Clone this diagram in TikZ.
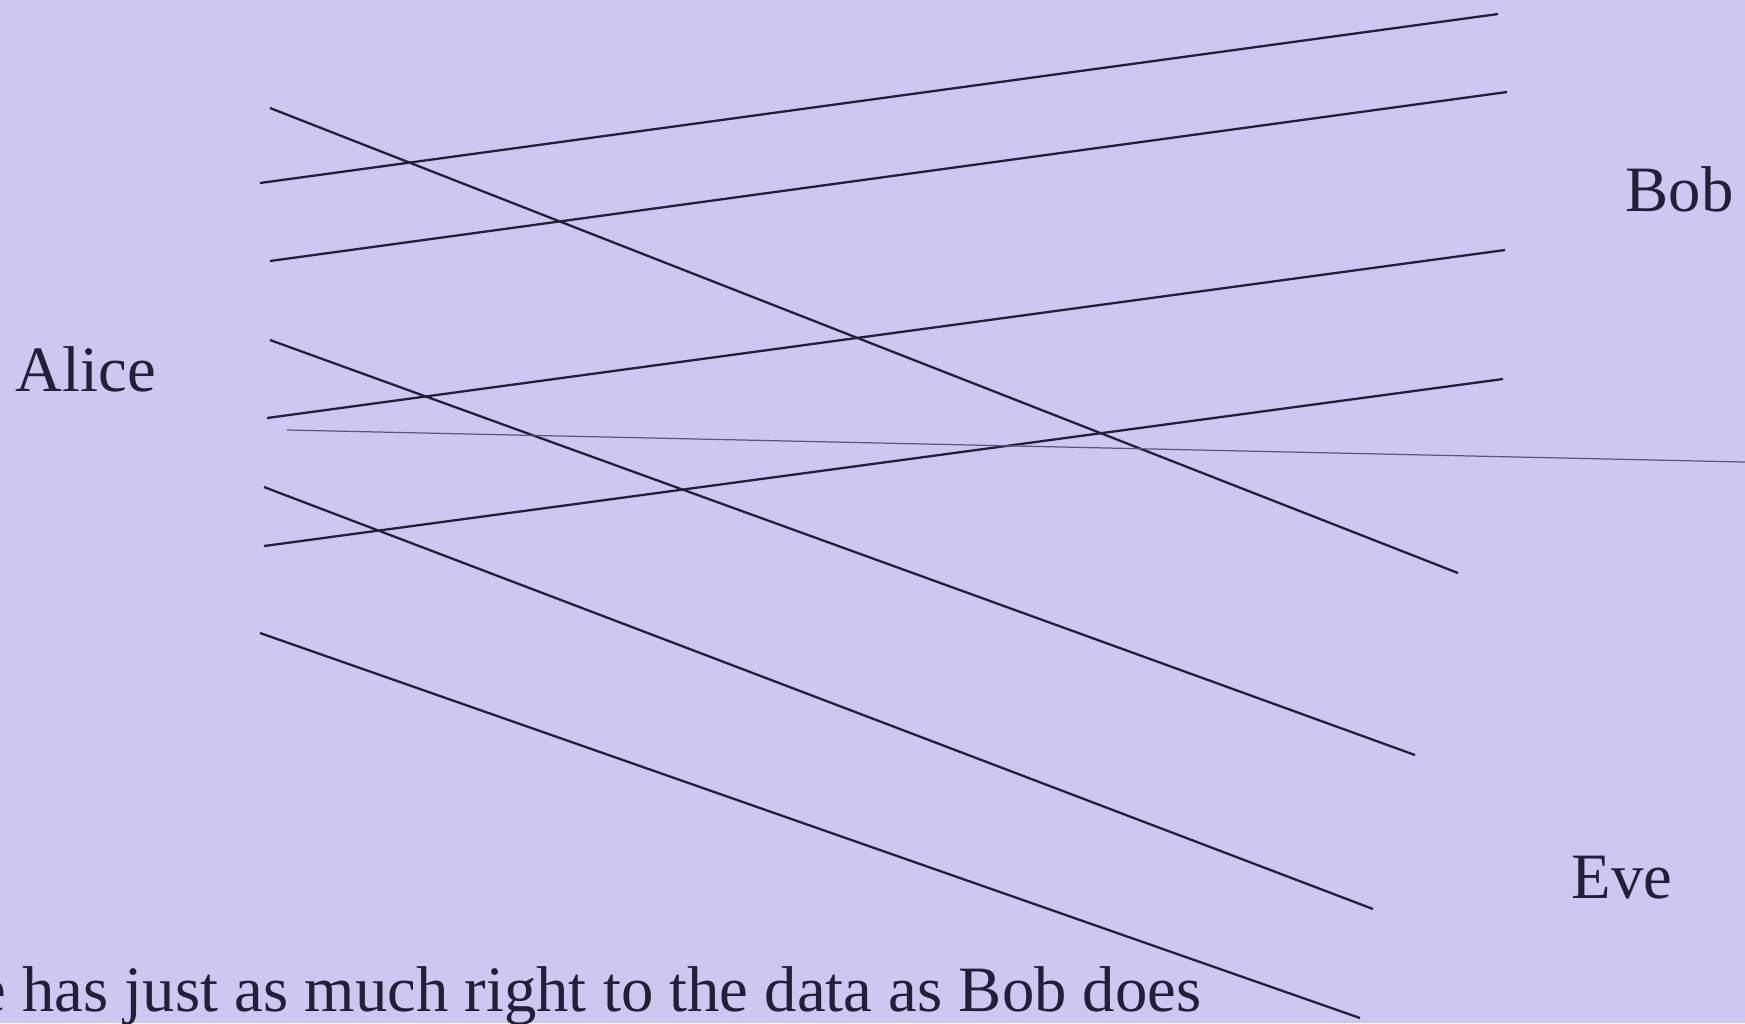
\documentclass[tikz,border=0pt]{standalone}
\usepackage{fontspec}
\setmainfont{Liberation Serif}
\definecolor{bgcol}{RGB}{203,200,241}
\definecolor{inkcol}{RGB}{34,32,54}
\definecolor{thincol}{RGB}{90,88,120}
\tikzset{
  wire/.style={draw=inkcol, line width=0.65pt},
  thinwire/.style={draw=thincol, line width=0.35pt},
  lbl/.style={anchor=base west, inner sep=0pt, text=inkcol, font=\fontsize{18.4pt}{21pt}\selectfont}
}
\begin{document}
\begin{tikzpicture}[x=0.01cm, y=-0.01cm]
  \fill[bgcol] (0,0) rectangle (1745,1023);
  \useasboundingbox (0,0) rectangle (1745,1023);
  \clip (0,0) rectangle (1745,1023);
  % labels
  \node[lbl] (alice) at (15,391) {Alice};
  \node[lbl] (bob) at (1625,211) {Bob};
  \node[lbl] (eve) at (1571,898) {Eve};
  \node[lbl] (note) at (-95,1011) {Eve has just as much right to the data as Bob does};
  % end points
  \coordinate (u1a) at (260,183); \coordinate (u1b) at (1498,14);
  \coordinate (u2a) at (270,261); \coordinate (u2b) at (1507,92);
  \coordinate (u3a) at (267,418); \coordinate (u3b) at (1505,250);
  \coordinate (u4a) at (264,546); \coordinate (u4b) at (1503,379);
  \coordinate (d1a) at (270,108); \coordinate (d1b) at (1458,573);
  \coordinate (d2a) at (270,340); \coordinate (d2b) at (1415,755);
  \coordinate (d3a) at (264,487); \coordinate (d3b) at (1373,909);
  \coordinate (d4a) at (260,633); \coordinate (d4b) at (1360,1018);
  \coordinate (ta) at (287,430); \coordinate (tb) at (1745,462);
  % lines
  \draw[wire] (u1a) -- (u1b);
  \draw[wire] (u2a) -- (u2b);
  \draw[wire] (u3a) -- (u3b);
  \draw[wire] (u4a) -- (u4b);
  \draw[wire] (d1a) -- (d1b);
  \draw[wire] (d2a) -- (d2b);
  \draw[wire] (d3a) -- (d3b);
  \draw[wire] (d4a) -- (d4b);
  \draw[thinwire] (ta) -- (tb);
\end{tikzpicture}
\end{document}
